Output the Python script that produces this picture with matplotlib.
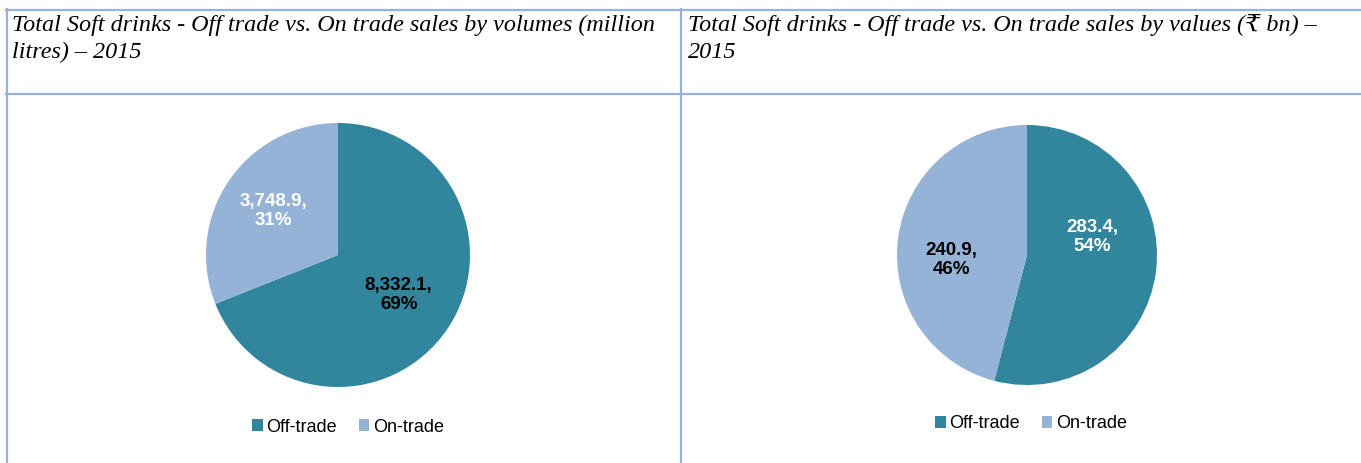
import matplotlib
matplotlib.use('Agg')
import matplotlib.pyplot as plt
from matplotlib.lines import Line2D
from matplotlib.patches import Patch

# Data
categories = ['Off-trade', 'On-trade']
volume_values = [8332.1, 3748.9]        # million litres
volume_labels = ['8,332.1,', '3,748.9,']
value_values = [283.4, 240.9]           # INR bn
value_labels = ['283.4,', '240.9,']

titles = [
    ['Total Soft drinks - Off trade vs. On trade sales by volumes (million',
     'litres) \u2013 2015'],
    ['Total Soft drinks - Off trade vs. On trade sales by values (\u20b9 bn) \u2013',
     '2015'],
]

colors = ['#31859C', '#95B3D7']
label_colors = [['black', 'white'], ['white', 'black']]
# label offsets inside each pie (fraction of radius), matching the source layout
label_pos = [[(0.46, -0.30), (-0.49, 0.33)], [(0.50, 0.14), (-0.58, -0.04)]]

W, H = 1361, 463
fig = plt.figure(figsize=(W / 100, H / 100), dpi=100)

sans = ['Liberation Sans', 'DejaVu Sans']
serif = ['Liberation Serif', 'DejaVu Serif', 'DejaVu Sans']

# table borders
border = '#95B3D7'
def hline(y, x0, x1):
    fig.add_artist(Line2D([x0 / W, x1 / W], [1 - y / H, 1 - y / H], color=border, lw=1.6))
def vline(x, y0, y1):
    fig.add_artist(Line2D([x / W, x / W], [1 - y0 / H, 1 - y1 / H], color=border, lw=1.6))

hline(10, 6, W)
hline(93.5, 6, W)
vline(7, 9, H)
vline(681, 9, H)

# pie axes: (centre x, centre y, radius) in pixels
pies = [(338, 255, 132), (1027, 255, 130)]
data = [volume_values, value_values]
texts = [volume_labels, value_labels]
legend_xy = [(348, 427), (1031, 424)]
title_x = [12, 688]

for i, (cx, cy, r) in enumerate(pies):
    ax = fig.add_axes([(cx - r) / W, 1 - (cy + r) / H, 2 * r / W, 2 * r / H])
    vals = data[i]
    ax.pie(vals, colors=colors, startangle=90, counterclock=False, radius=1,
           wedgeprops=dict(linewidth=0))
    ax.set_xlim(-1, 1)
    ax.set_ylim(-1, 1)
    ax.set_aspect('equal')
    ax.axis('off')
    total = sum(vals)
    for j, v in enumerate(vals):
        pct = round(100 * v / total)
        x, y = label_pos[i][j]
        ax.text(x, y, f'{texts[i][j]}\n{pct}%', ha='center', va='center',
                fontsize=13.5, fontweight='bold', color=label_colors[i][j],
                family=sans, linespacing=1.15)

    handles = [Patch(facecolor=c, edgecolor='none') for c in colors]
    lx, ly = legend_xy[i]
    fig.legend(handles, categories, loc='center', ncol=2, frameon=False,
               bbox_to_anchor=(lx / W, 1 - ly / H),
               prop=dict(family=sans, size=13), handlelength=0.6, handleheight=0.6,
               handletextpad=0.2, columnspacing=1.2)

    for k, line in enumerate(titles[i]):
        fig.text(title_x[i] / W, 1 - (31 + 27 * k) / H, line, ha='left', va='baseline',
                 fontsize=17.4, style='italic', family=serif)

fig.savefig('out.png', dpi=100)
